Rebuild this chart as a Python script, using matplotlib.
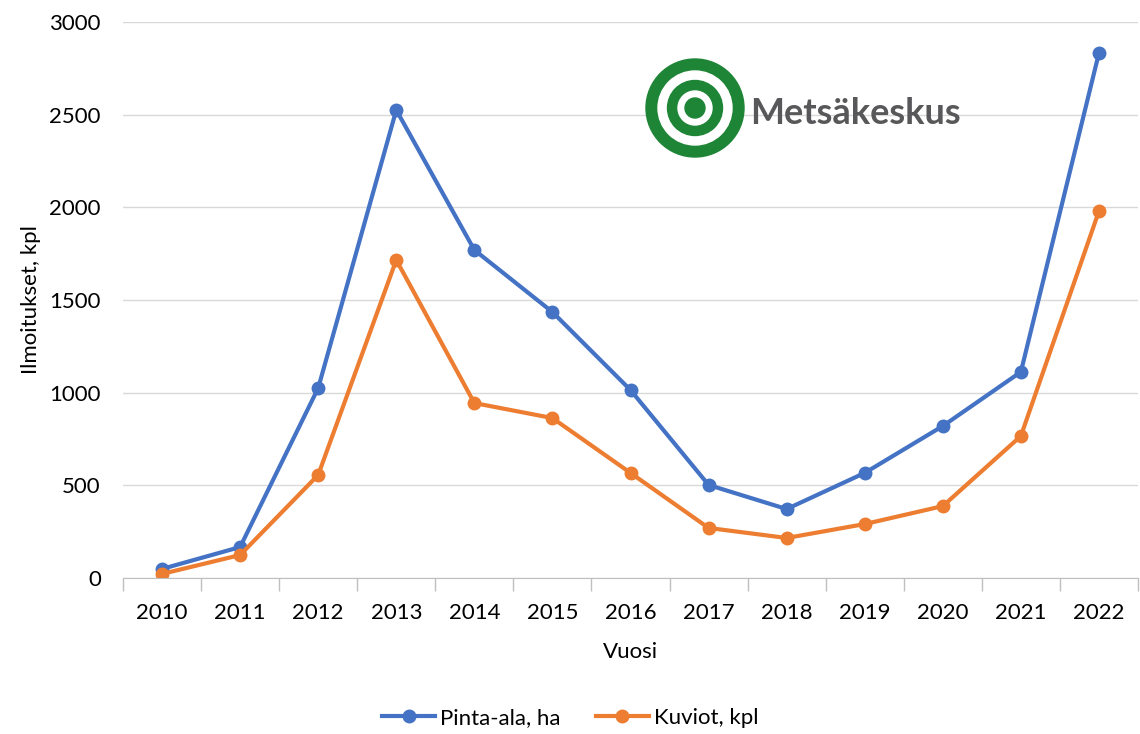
import numpy as np
import matplotlib.pyplot as plt
from matplotlib.patches import Circle

plt.rcParams['font.family'] = ['Lato', 'DejaVu Sans']

# data
vuodet = ['2010', '2011', '2012', '2013', '2014', '2015', '2016',
          '2017', '2018', '2019', '2020', '2021', '2022']
pinta_ala = [49, 167, 1025, 2525, 1770, 1435, 1014, 502, 372, 567, 820, 1112, 2833]
kuviot = [22, 124, 556, 1716, 944, 863, 567, 270, 216, 291, 388, 766, 1980]

sininen = '#4472C4'
oranssi = '#ED7D31'

fig = plt.figure(figsize=(11.4, 7.34), dpi=100)
ax = fig.add_axes([123/1140, 1 - 578/734, 1015/1140, 556/734])

x = np.arange(len(vuodet))
ax.plot(x, pinta_ala, color=sininen, lw=3, marker='o', ms=9, label='Pinta-ala, ha')
ax.plot(x, kuviot, color=oranssi, lw=3, marker='o', ms=9, label='Kuviot, kpl')

ax.set_xlim(-0.5, len(vuodet) - 0.5)
ax.set_ylim(0, 3000)
ax.set_yticks(range(0, 3001, 500))
ax.set_xticks(x)
ax.set_xticklabels(vuodet)
ax.set_xticks(np.arange(-0.5, len(vuodet), 1), minor=True)
ax.tick_params(axis='x', which='major', length=0, pad=18, labelsize=16)
ax.tick_params(axis='x', which='minor', length=9, color='#BFBFBF', width=1)
ax.tick_params(axis='y', length=0, pad=16, labelsize=16)

ax.grid(axis='y', color='#D9D9D9', lw=1)
ax.set_axisbelow(True)
for s in ['top', 'right', 'left']:
    ax.spines[s].set_visible(False)
ax.spines['bottom'].set_color('#BFBFBF')

ax.set_xlabel('Vuosi', fontsize=16, labelpad=14)
ax.set_ylabel('Ilmoitukset, kpl', fontsize=16, labelpad=6)

fig.legend(loc='center', bbox_to_anchor=(0.5, 1 - 718/734), ncol=2, frameon=False,
           fontsize=16, handlelength=2.4, columnspacing=1.6, handletextpad=0.2)

# logo
lax = fig.add_axes([645/1140, 1 - 158/734, 100/1140, 100/734])
lax.set_xlim(-1, 1)
lax.set_ylim(-1, 1)
lax.set_aspect('equal')
lax.axis('off')
vihrea = '#1E8537'
for r, c in [(0.98, vihrea), (0.74, 'white'), (0.55, vihrea), (0.34, 'white'), (0.2, vihrea)]:
    lax.add_patch(Circle((0, 0), r, color=c))
fig.text(750/1140, 1 - 113/734, 'Metsäkeskus', fontsize=26, fontweight='bold',
         color='#58585A', va='center', ha='left')

fig.savefig('out.png', dpi=100)
